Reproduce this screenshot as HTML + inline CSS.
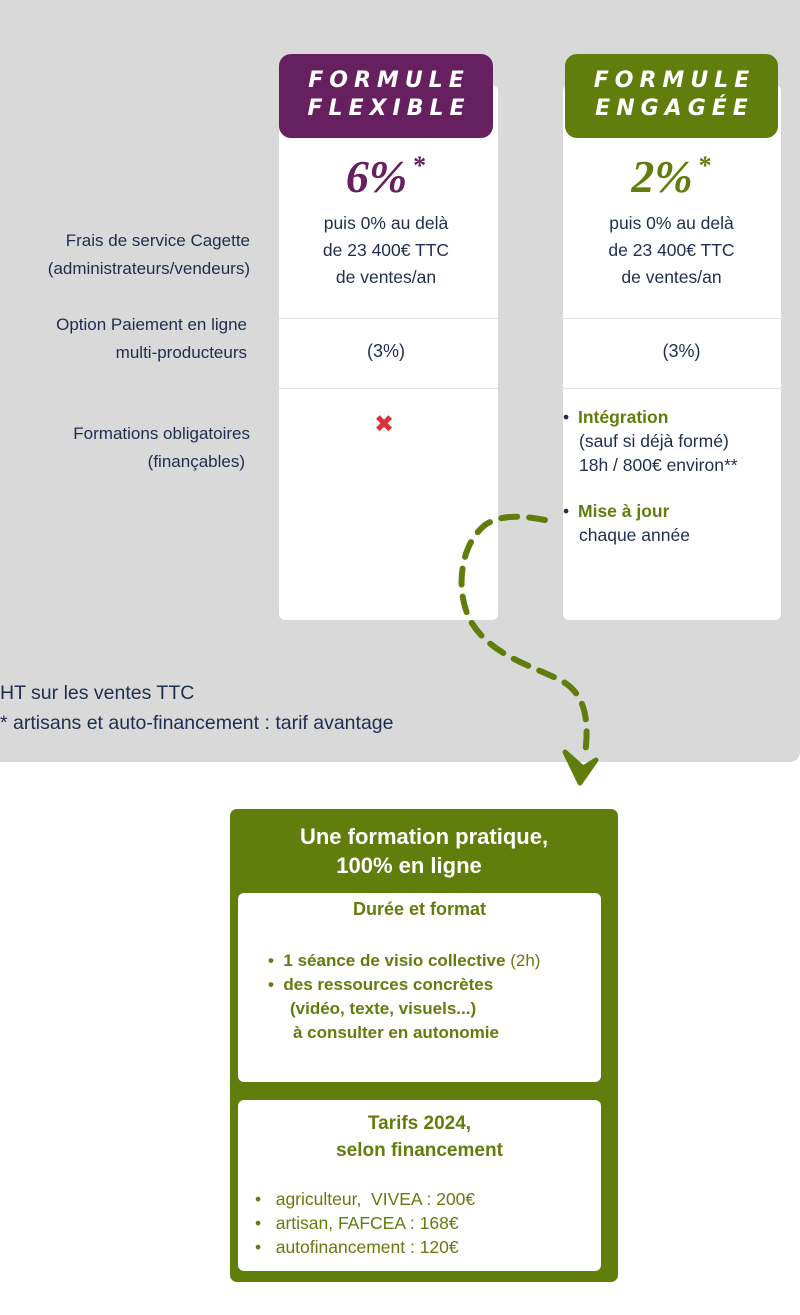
<!DOCTYPE html>
<html><head><meta charset="utf-8"><style>
*{margin:0;padding:0;box-sizing:border-box}
body{width:800px;height:1315px;background:#fff;position:relative;overflow:hidden;font-family:"Liberation Sans","DejaVu Sans",sans-serif;color:#1f2d4e}
.a{position:absolute}
.gray{left:0;top:0;width:800px;height:762px;background:#d9d9d9;border-bottom-right-radius:10px}
.card{background:#fff;border-radius:6px}
.hdr{border-radius:12px;color:#fff;font-weight:bold;font-style:italic;font-size:22px;letter-spacing:6px;text-align:center;line-height:28px;padding-top:13px;padding-left:6px;font-family:"DejaVu Sans","Liberation Sans",sans-serif}
.c{text-align:center;font-size:17.5px;line-height:27px}
.r{text-align:right;font-size:17px;line-height:28px}
.big{font-size:46px;font-weight:bold;font-style:italic;text-align:center;font-family:"Liberation Serif",serif}
.line{height:1px;background:#e2e2e2}
.g{color:#617d0c}
</style></head><body>
<div class="a gray"></div>
<div class="a card" style="left:279px;top:85px;width:219px;height:535px"></div>
<div class="a card" style="left:563px;top:85px;width:218px;height:535px"></div>
<div class="a hdr" style="left:279px;top:54px;width:214px;height:84px;background:#66205f">FORMULE<br>FLEXIBLE</div>
<div class="a hdr" style="left:565px;top:54px;width:213px;height:84px;background:#617d0c">FORMULE<br>ENGAGÉE</div>
<div class="a big" style="left:279px;top:150px;width:214px;color:#66205f">6%<sup style="font-size:26px;font-style:normal;vertical-align:18px;margin-left:6px">*</sup></div>
<div class="a big" style="left:565px;top:150px;width:213px;color:#617d0c">2%<sup style="font-size:26px;font-style:normal;vertical-align:18px;margin-left:6px">*</sup></div>
<div class="a c" style="left:279px;top:210px;width:214px">puis 0% au delà<br>de 23 400€ TTC<br>de ventes/an</div>
<div class="a c" style="left:565px;top:210px;width:213px">puis 0% au delà<br>de 23 400€ TTC<br>de ventes/an</div>
<div class="a line" style="left:279px;top:318px;width:219px"></div>
<div class="a line" style="left:563px;top:318px;width:218px"></div>
<div class="a line" style="left:279px;top:388px;width:219px"></div>
<div class="a line" style="left:563px;top:388px;width:218px"></div>
<div class="a c" style="left:279px;top:338px;width:214px;font-size:18px">(3%)</div>
<div class="a c" style="left:575px;top:338px;width:213px;font-size:18px">(3%)</div>
<div class="a" style="left:374px;top:410px;color:#d9343a;font-size:24px;font-weight:bold;line-height:30px">✖</div>
<div class="a r" style="left:0;top:227px;width:250px">Frais de service Cagette<br>(administrateurs/vendeurs)</div>
<div class="a r" style="left:0;top:311px;width:247px">Option Paiement en ligne<br>multi-producteurs</div>
<div class="a r" style="left:0;top:420px;width:250px">Formations obligatoires<br><span style="margin-right:5px">(finançables)</span></div>
<div class="a" style="left:563px;top:405px;font-size:17.5px;line-height:24px">
<div>• <b class="g" style="margin-left:4px">Intégration</b></div>
<div style="padding-left:16px">(sauf si déjà formé)<br>18h / 800€ environ**</div>
<div style="margin-top:22px">• <b class="g" style="margin-left:4px">Mise à jour</b></div>
<div style="padding-left:16px">chaque année</div>
</div>
<div class="a" style="left:0;top:678px;font-size:19.5px;line-height:30px">HT sur les ventes TTC<br>* artisans et auto-financement : tarif avantage</div>
<svg class="a" style="left:0;top:0" width="800" height="800">
<path d="M545 520 C520 515 500 515 485 525 C460 545 455 590 470 620 C490 655 530 665 560 680 C590 695 588 730 585 755" fill="none" stroke="#617d0c" stroke-width="6" stroke-dasharray="16 12" stroke-linecap="round"/>
<path d="M565 752 L580 783 L596 760 L583 768 Z" fill="#617d0c" stroke="#617d0c" stroke-width="5" stroke-linejoin="round"/>
</svg>
<div class="a" style="left:230px;top:809px;width:388px;height:473px;background:#617d0c;border-radius:7px"></div>
<div class="a" style="left:230px;top:822px;width:388px;text-align:center;color:#fff;font-weight:bold;font-size:22px;line-height:29px">Une formation pratique,<br><span style="margin-right:30px">100% en ligne</span></div>
<div class="a" style="left:238px;top:893px;width:363px;height:189px;background:#fff;border-radius:6px"></div>
<div class="a" style="left:238px;top:1100px;width:363px;height:171px;background:#fff;border-radius:6px"></div>
<div class="a g" style="left:238px;top:899px;width:363px;text-align:center;font-weight:bold;font-size:18px">Durée et format</div>
<div class="a g" style="left:268px;top:949px;font-weight:bold;font-size:17px;line-height:24px">
<div>•&nbsp; 1 séance de visio collective <span style="font-weight:normal">(2h)</span></div>
<div>•&nbsp; des ressources concrètes</div>
<div style="padding-left:22px">(vidéo, texte, visuels...)</div>
<div style="padding-left:25px">à consulter en autonomie</div>
</div>
<div class="a g" style="left:238px;top:1110px;width:363px;text-align:center;font-weight:bold;font-size:19px;line-height:27px">Tarifs 2024,<br>selon financement</div>
<div class="a g" style="left:255px;top:1187px;font-size:17.5px;line-height:24px">
<div>•&nbsp;&nbsp; agriculteur,&nbsp; VIVEA : 200€</div>
<div>•&nbsp;&nbsp; artisan, FAFCEA : 168€</div>
<div>•&nbsp;&nbsp; autofinancement : 120€</div>
</div>
</body></html>
